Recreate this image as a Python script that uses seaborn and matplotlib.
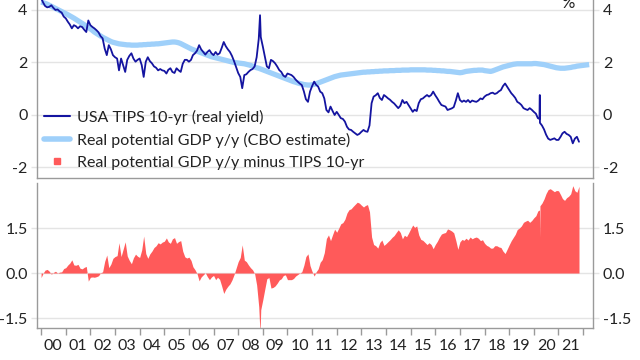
import numpy as np
import pandas as pd
import matplotlib
matplotlib.use("Agg")
import matplotlib.pyplot as plt
import matplotlib.dates as mdates
from matplotlib.lines import Line2D
import seaborn as sns

# ---------------- data ----------------
# USA TIPS 10-yr real yield, monthly (Jan 2000 .. Nov 2021), %
tips_monthly = [
    4.45, 4.28, 4.15, 4.10, 4.12, 4.18, 4.08, 4.00, 4.02, 3.95, 3.90, 3.75,   # 2000
    3.68, 3.55, 3.45, 3.30, 3.42, 3.38, 3.30, 3.38, 3.35, 3.25, 3.16, 3.60,   # 2001
    3.42, 3.35, 3.30, 3.23, 3.15, 3.00, 2.92, 2.53, 2.28, 2.66, 2.50, 2.28,   # 2002
    2.20, 2.15, 1.70, 2.15, 1.90, 1.64, 2.10, 2.25, 2.35, 2.15, 2.03, 2.10,   # 2003
    2.15, 1.90, 1.45, 2.03, 2.20, 2.05, 1.97, 1.85, 1.80, 1.70, 1.75, 1.70,   # 2004
    1.68, 1.58, 1.72, 1.78, 1.64, 1.60, 1.78, 1.70, 1.64, 1.95, 2.10, 2.10,   # 2005
    2.03, 2.10, 2.28, 2.35, 2.45, 2.66, 2.50, 2.40, 2.30, 2.40, 2.47, 2.35,   # 2006
    2.28, 2.40, 2.30, 2.35, 2.55, 2.78, 2.62, 2.50, 2.40, 2.25, 2.05, 1.83,   # 2007
    1.60, 1.45, 1.02, 1.52, 1.55, 1.64, 1.71, 1.75, 1.85, 2.20, 2.90, 2.97,   # 2008
    2.60, 2.20, 1.85, 1.78, 2.10, 2.05, 1.97, 1.85, 1.71, 1.64, 1.50, 1.45,   # 2009
    1.58, 1.55, 1.52, 1.45, 1.35, 1.27, 1.20, 1.14, 0.90, 0.60, 0.50, 0.89,   # 2010
    1.10, 1.27, 1.15, 1.08, 0.89, 0.83, 0.63, 0.19, 0.10, 0.32, 0.15, 0.00,   # 2011
    0.12, 0.00, -0.12, -0.15, -0.25, -0.45, -0.55, -0.57, -0.64, -0.70, -0.76, -0.72,  # 2012
    -0.64, -0.57, -0.62, -0.64, -0.40, 0.45, 0.70, 0.75, 0.83, 0.65, 0.57, 0.76,     # 2013
    0.70, 0.63, 0.58, 0.50, 0.44, 0.35, 0.26, 0.35, 0.57, 0.45, 0.50, 0.38,   # 2014
    0.25, 0.12, 0.20, 0.15, 0.45, 0.60, 0.63, 0.70, 0.76, 0.70, 0.76, 0.89,   # 2015
    0.75, 0.63, 0.50, 0.38, 0.35, 0.32, 0.19, 0.22, 0.25, 0.30, 0.55, 0.83,   # 2016
    0.57, 0.50, 0.55, 0.50, 0.57, 0.48, 0.55, 0.52, 0.50, 0.55, 0.63, 0.60,   # 2017
    0.70, 0.76, 0.78, 0.83, 0.85, 0.80, 0.83, 0.90, 0.95, 1.10, 1.20, 1.08,   # 2018
    0.95, 0.83, 0.75, 0.65, 0.50, 0.45, 0.38, 0.26, 0.22, 0.19, 0.26, 0.20,   # 2019
    0.12, 0.05, -0.12, -0.30, -0.40, -0.55, -0.75, -0.90, -0.95, -0.92, -0.89, -0.95,  # 2020
    -0.95, -0.83, -0.70, -0.64, -0.72, -0.76, -0.83, -1.08, -0.90, -0.83, -1.02,      # 2021
]
# short-lived spikes between month starts
tips_extra_dates = ["2008-11-20", "2020-03-25", "2020-03-30"]
tips_extra_values = [3.80, -0.15, 0.76]

# Real potential GDP y/y (CBO estimate), monthly (Jan 2000 .. Apr 2022), %
cbo_monthly = [
    4.30, 4.28, 4.25, 4.22, 4.18, 4.14, 4.10, 4.06, 4.02, 3.98, 3.94, 3.90,   # 2000
    3.86, 3.82, 3.78, 3.74, 3.69, 3.64, 3.59, 3.54, 3.49, 3.44, 3.38, 3.33,   # 2001
    3.28, 3.22, 3.16, 3.11, 3.06, 3.01, 2.96, 2.92, 2.88, 2.84, 2.80, 2.77,   # 2002
    2.75, 2.73, 2.71, 2.70, 2.69, 2.68, 2.67, 2.67, 2.66, 2.66, 2.66, 2.66,   # 2003
    2.67, 2.67, 2.68, 2.68, 2.69, 2.69, 2.70, 2.70, 2.71, 2.71, 2.72, 2.73,   # 2004
    2.74, 2.75, 2.76, 2.77, 2.78, 2.78, 2.77, 2.75, 2.72, 2.68, 2.64, 2.60,   # 2005
    2.56, 2.52, 2.49, 2.46, 2.43, 2.40, 2.37, 2.34, 2.31, 2.28, 2.25, 2.22,   # 2006
    2.20, 2.18, 2.16, 2.14, 2.12, 2.10, 2.08, 2.06, 2.04, 2.02, 2.00, 1.99,   # 2007
    1.98, 1.97, 1.96, 1.95, 1.93, 1.91, 1.89, 1.86, 1.83, 1.80, 1.78, 1.75,   # 2008
    1.72, 1.69, 1.66, 1.63, 1.60, 1.57, 1.54, 1.51, 1.48, 1.45, 1.42, 1.39,   # 2009
    1.36, 1.33, 1.30, 1.27, 1.25, 1.22, 1.20, 1.18, 1.16, 1.15, 1.14, 1.14,   # 2010
    1.15, 1.17, 1.19, 1.22, 1.25, 1.28, 1.31, 1.34, 1.37, 1.40, 1.43, 1.46,   # 2011
    1.48, 1.50, 1.52, 1.53, 1.54, 1.55, 1.56, 1.57, 1.58, 1.59, 1.60, 1.61,   # 2012
    1.62, 1.63, 1.63, 1.64, 1.64, 1.65, 1.65, 1.66, 1.66, 1.67, 1.67, 1.68,   # 2013
    1.68, 1.68, 1.69, 1.69, 1.69, 1.70, 1.70, 1.70, 1.71, 1.71, 1.71, 1.71,   # 2014
    1.72, 1.72, 1.72, 1.72, 1.72, 1.72, 1.72, 1.72, 1.71, 1.71, 1.71, 1.70,   # 2015
    1.70, 1.69, 1.69, 1.68, 1.68, 1.67, 1.66, 1.66, 1.65, 1.64, 1.63, 1.62,   # 2016
    1.61, 1.62, 1.64, 1.66, 1.67, 1.68, 1.69, 1.70, 1.70, 1.71, 1.71, 1.71,   # 2017
    1.69, 1.68, 1.67, 1.66, 1.68, 1.71, 1.74, 1.77, 1.80, 1.83, 1.85, 1.87,   # 2018
    1.89, 1.91, 1.93, 1.94, 1.95, 1.95, 1.95, 1.95, 1.95, 1.95, 1.95, 1.95,   # 2019
    1.96, 1.96, 1.95, 1.94, 1.93, 1.92, 1.90, 1.88, 1.86, 1.84, 1.82, 1.80,   # 2020
    1.79, 1.78, 1.78, 1.78, 1.79, 1.80, 1.81, 1.83, 1.84, 1.86, 1.87, 1.88,   # 2021
    1.89, 1.90, 1.91, 1.92,                                                   # 2022
]

year_labels = ["00", "01", "02", "03", "04", "05", "06", "07", "08", "09", "10",
               "11", "12", "13", "14", "15", "16", "17", "18", "19", "20", "21"]
top_ticks = [-2, 0, 2, 4]
top_tick_labels = ["-2", "0", "2", "4"]
bottom_ticks = [-1.5, 0.0, 1.5]
bottom_tick_labels = ["-1.5", "0.0", "1.5"]

legend_labels = ["USA TIPS 10-yr (real yield)",
                 "Real potential GDP y/y (CBO estimate)",
                 "Real potential GDP y/y minus TIPS 10-yr"]

# ---------------- build series ----------------
tips_idx = pd.date_range("2000-01-01", periods=len(tips_monthly), freq="MS")
tips = pd.Series(tips_monthly, index=tips_idx)
tips = pd.concat([tips, pd.Series(tips_extra_values,
                                  index=pd.to_datetime(tips_extra_dates))]).sort_index()
cbo_idx = pd.date_range("2000-01-01", periods=len(cbo_monthly), freq="MS")
cbo = pd.Series(cbo_monthly, index=cbo_idx)
gap = cbo.reindex(tips.index, method="ffill") - tips

df_tips = pd.DataFrame({"date": tips.index, "value": tips.values})
df_cbo = pd.DataFrame({"date": cbo.index, "value": cbo.values})

# ---------------- style ----------------
sns.set_theme(style="white")
plt.rcParams["font.family"] = ["Lato", "DejaVu Sans"]

NAVY = "#1414a0"
LIGHT = "#9fd0fa"
RED = "#ff5a5a"
SPINE = "#9a9a9a"
GRID = "#e4e4e4"
TXT = "#222222"

fig = plt.figure(figsize=(6.4, 3.6), dpi=100)
ax1 = fig.add_axes([0.0583, 0.5056, 0.8683, 0.4944])
ax2 = fig.add_axes([0.0583, 0.0889, 0.8683, 0.4028])

xmin = pd.Timestamp("1999-11-06")
xmax = pd.Timestamp("2022-05-28")

sns.lineplot(data=df_cbo, x="date", y="value", ax=ax1, color=LIGHT, lw=3.8,
             solid_capstyle="butt", zorder=2)
sns.lineplot(data=df_tips, x="date", y="value", ax=ax1, color=NAVY, lw=1.3, zorder=3)

ax2.fill_between(gap.index, gap.values, 0, color=RED, lw=0, zorder=2)

for ax in (ax1, ax2):
    ax.set_xlim(xmin, xmax)
    ax.set_xlabel("")
    ax.set_ylabel("")
    ax.grid(axis="y", color=GRID, lw=1, zorder=0)
    ax.grid(axis="x", visible=False)
    ax.set_axisbelow(True)
    for side in ("left", "right", "bottom"):
        ax.spines[side].set_visible(True)
        ax.spines[side].set_color(SPINE)
        ax.spines[side].set_linewidth(1)
    ax.spines["top"].set_visible(False)
    ax.tick_params(axis="y", left=True, right=True, labelleft=True, labelright=True,
                   length=4, width=1, color=GRID, pad=3, labelsize=11.5, labelcolor=TXT)

ax1.set_ylim(-2.4, 4.38)
ax1.set_yticks(top_ticks)
ax1.set_yticklabels(top_tick_labels)
ax1.tick_params(axis="x", bottom=False, labelbottom=False)

ax2.set_ylim(-1.83, 3.0)
ax2.set_yticks(bottom_ticks)
ax2.set_yticklabels(bottom_tick_labels)

year_starts = pd.date_range("2000-01-01", "2022-01-01", freq="YS")
mid_years = pd.date_range("2000-07-01", periods=len(year_labels), freq="12MS")
ax2.set_xticks(year_starts)
ax2.set_xticklabels([])
ax2.set_xticks(mid_years, minor=True)
ax2.set_xticklabels(year_labels, minor=True)
ax2.tick_params(axis="x", which="major", bottom=True, length=5, width=1, color=SPINE)
ax2.tick_params(axis="x", which="minor", bottom=True, length=0, pad=8,
                labelsize=11.5, labelcolor=TXT)

ax1.text(0.955, 0.985, "%", transform=ax1.transAxes, ha="center", va="center",
         fontsize=12, color=TXT)

handles = [Line2D([], [], color=NAVY, lw=1.5),
           Line2D([], [], color=LIGHT, lw=4),
           Line2D([], [], color=RED, lw=0, marker="s", markersize=5)]
leg = ax1.legend(handles, legend_labels, loc="upper left",
                 bbox_to_anchor=(0.012, 0.385), frameon=False, fontsize=11.5,
                 handlelength=1.6, handletextpad=0.45, labelspacing=0.5,
                 borderpad=0.0, borderaxespad=0)
for t in leg.get_texts():
    t.set_color(TXT)

fig.savefig("out.png", dpi=100)
